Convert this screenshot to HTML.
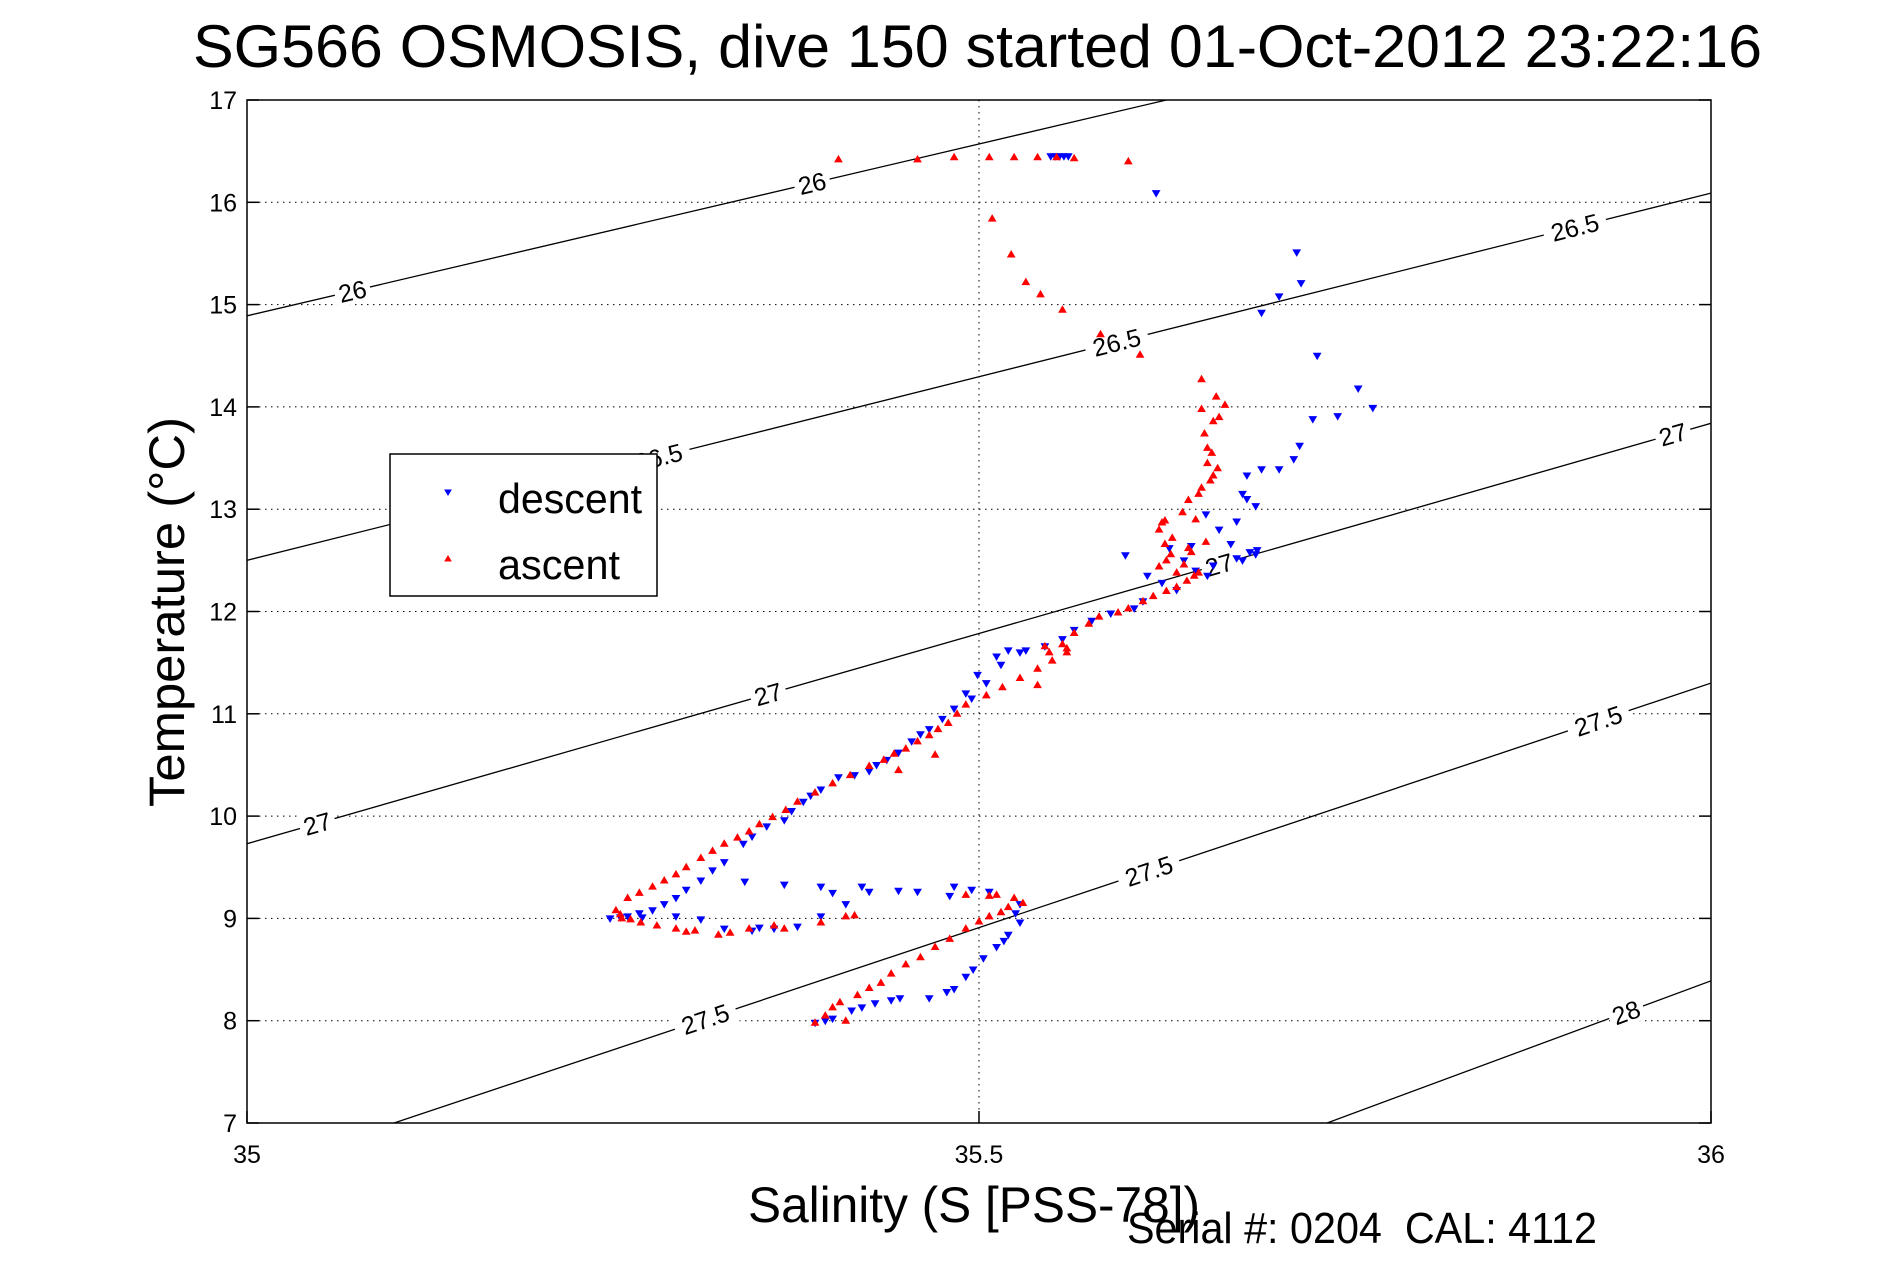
<!DOCTYPE html>
<html><head><meta charset="utf-8"><style>
html,body{margin:0;padding:0;background:#fff;width:1891px;height:1262px;overflow:hidden;}
svg{display:block;font-family:"Liberation Sans",sans-serif;}
</style></head><body>
<svg id="chart" width="1891" height="1262" viewBox="0 0 1891 1262" xmlns="http://www.w3.org/2000/svg">
<rect x="0" y="0" width="1891" height="1262" fill="#fff"/>
<defs><clipPath id="pc"><rect x="247" y="100" width="1464" height="1023"/></clipPath></defs>
<text x="193" y="67" font-size="60" textLength="1569" lengthAdjust="spacingAndGlyphs">SG566 OSMOSIS, dive 150 started 01-Oct-2012 23:22:16</text>
<g id="grid"></g>
<g id="contours" clip-path="url(#pc)"></g>
<g id="clabels"></g>
<g id="desc"></g>
<g id="asc"></g>
<rect x="247" y="100" width="1464" height="1023" fill="none" stroke="#000" stroke-width="1.5"/>
<g id="ticks"></g>
<text x="748" y="1222" font-size="50" textLength="452" lengthAdjust="spacingAndGlyphs">Salinity (S [PSS-78])</text>
<text transform="translate(184,612) rotate(-90)" text-anchor="middle" font-size="50" textLength="390" lengthAdjust="spacingAndGlyphs">Temperature (°C)</text>
<text x="1127" y="1243" font-size="44" textLength="470" lengthAdjust="spacingAndGlyphs" xml:space="preserve">Serial #: 0204 &#160;CAL: 4112</text>
<g>
<rect x="390" y="454" width="267" height="142" fill="#fff" stroke="#000" stroke-width="1.5"/>
<polygon points="445,490 451,490 448,495" fill="#00f" stroke="#00f"/>
<text x="498" y="513" font-size="42" textLength="144" lengthAdjust="spacingAndGlyphs">descent</text>
<polygon points="445,561 451,561 448,556" fill="#f00" stroke="#f00"/>
<text x="498" y="579" font-size="42" textLength="122" lengthAdjust="spacingAndGlyphs">ascent</text>
</g>
</svg>
<script>
const xTicks=[35,35.5,36];
const xTickLabels=["35","35.5","36"];
const yTicks=[7,8,9,10,11,12,13,14,15,16,17];
const contourLevels=["26","26.5","27","27.5","28"];
const contourT35=[14.89,12.5,9.73,6.52,3.09];
const contourT36=[18.25,16.09,13.84,11.30,8.39];
const labelLevelIdx=[0,0,1,1,1,2,2,2,2,3,3,3,4];
const labelS=[35.072,35.386,35.281,35.594,35.907,35.048,35.356,35.664,35.974,35.313,35.616,35.923,35.942];
const descS=[35.549,35.552,35.555,35.558,35.561,35.621,35.717,35.720,35.705,35.693,35.731,35.759,35.769,35.745,35.728,35.719,35.715,35.705,35.693,35.683,35.680,35.689,35.676,35.664,35.672,35.689,35.680,35.656,35.635,35.606,35.577,35.557,35.532,35.512,35.499,35.491,35.483,35.466,35.454,35.437,35.425,35.404,35.392,35.380,35.367,35.355,35.339,35.326,35.310,35.293,35.277,35.260,35.248,35.270,35.293,35.326,35.350,35.376,35.392,35.409,35.425,35.458,35.483,35.507,35.528,35.528,35.520,35.512,35.503,35.491,35.483,35.466,35.446,35.429,35.413,35.400,35.388,35.340,35.367,35.392,35.445,35.600,35.640,35.615,
35.685,35.690,35.676,35.660,35.648,35.625,35.612,35.590,35.565,35.545,35.528,35.520,35.515,35.505,35.495,35.475,35.460,35.445,35.430,35.415,35.385,35.372,35.345,35.318,35.300,35.285,35.268,35.255,35.310,35.345,35.360,35.525,35.517,35.496,35.478,35.440,35.420,35.395,35.400,35.420,35.480,35.495,35.630,35.645,35.655,35.683];
const descT=[16.45,16.45,16.45,16.45,16.45,16.09,15.51,15.21,15.08,14.92,14.50,14.18,13.99,13.91,13.88,13.62,13.49,13.39,13.39,13.33,13.15,13.03,12.88,12.80,12.66,12.56,12.50,12.35,12.21,12.03,11.91,11.73,11.62,11.56,11.38,11.20,11.05,10.85,10.73,10.55,10.44,10.38,10.26,10.14,9.96,9.90,9.73,9.55,9.37,9.20,9.08,9.02,9.00,9.01,9.02,8.90,8.91,8.92,9.02,9.14,9.26,9.26,9.31,9.26,9.14,8.96,8.84,8.72,8.61,8.43,8.31,8.22,8.22,8.17,8.10,8.02,7.98,9.36,9.33,9.31,9.27,12.55,12.50,12.35,
12.58,12.60,12.52,12.45,12.40,12.28,12.10,11.98,11.82,11.66,11.60,11.62,11.48,11.30,11.15,10.95,10.80,10.62,10.50,10.40,10.20,10.05,9.80,9.47,9.28,9.14,9.05,9.01,8.99,8.88,8.90,9.05,8.78,8.50,8.28,8.20,8.13,8.00,9.25,9.31,9.22,9.28,12.62,12.64,12.95,13.10];
const ascS=[35.388,35.409,35.400,35.417,35.433,35.450,35.470,35.491,35.507,35.520,35.524,35.507,35.491,35.409,35.392,35.367,35.343,35.322,35.306,35.293,35.269,35.256,35.252,35.260,35.277,35.293,35.310,35.326,35.343,35.359,35.376,35.400,35.425,35.442,35.458,35.466,35.479,35.491,35.516,35.540,35.557,35.565,35.582,35.602,35.619,35.635,35.647,35.635,35.623,35.631,35.643,35.627,35.623,35.627,35.639,35.643,35.652,35.660,35.656,35.656,35.654,35.660,35.652,35.662,35.652,35.610,35.583,35.557,35.542,35.532,35.522,35.509,35.602,35.565,35.553,35.540,35.524,35.507,35.483,35.458,35.404,35.545,35.560,
35.395,35.405,35.425,35.440,35.460,35.480,35.500,35.515,35.530,35.512,35.415,35.360,35.330,35.300,35.280,35.262,35.255,35.268,35.285,35.300,35.318,35.335,35.350,35.368,35.388,35.412,35.435,35.450,35.472,35.485,35.505,35.528,35.550,35.560,35.548,35.575,35.595,35.612,35.628,35.642,35.650,35.640,35.628,35.645,35.655,35.632,35.625,35.648,35.650,35.658,35.663,35.659,35.664,35.668,35.540,35.470,35.445];
const ascT=[7.98,8.00,8.13,8.25,8.37,8.55,8.72,8.90,9.02,9.11,9.20,9.22,9.23,9.02,8.96,8.90,8.90,8.84,8.88,8.90,8.96,9.00,9.08,9.20,9.31,9.43,9.59,9.73,9.85,9.99,10.14,10.32,10.49,10.61,10.73,10.79,10.91,11.09,11.26,11.44,11.68,11.79,11.95,12.03,12.15,12.24,12.35,12.38,12.44,12.56,12.62,12.66,12.80,12.89,12.97,13.09,13.21,13.33,13.45,13.60,13.74,13.86,13.98,14.10,14.27,14.51,14.71,14.95,15.10,15.22,15.49,15.84,16.40,16.43,16.44,16.44,16.44,16.44,16.44,16.42,16.42,11.66,11.60,
8.05,8.18,8.32,8.46,8.62,8.80,8.97,9.06,9.15,9.23,9.03,8.93,8.86,8.87,8.93,8.99,9.04,9.25,9.37,9.50,9.66,9.79,9.92,10.06,10.23,10.40,10.55,10.66,10.85,11.00,11.18,11.35,11.52,11.64,11.60,11.88,11.99,12.10,12.20,12.30,12.38,12.46,12.50,12.58,12.68,12.72,12.87,12.90,13.15,13.28,13.40,13.55,13.90,14.02,11.28,10.60,10.45];

const NS="http://www.w3.org/2000/svg";
const X0=247,X1=1711,Y0=1123,Y1=100;
function xs(s){return X0+(s-35)*(X1-X0);}
function ys(t){return Y0-(t-7)*(Y0-Y1)/10;}
function mk(tag,attrs,parent){const e=document.createElementNS(NS,tag);for(const k in attrs)e.setAttribute(k,attrs[k]);parent.appendChild(e);return e;}
const grid=document.getElementById('grid'),ticks=document.getElementById('ticks');
yTicks.forEach((t,i)=>{
  const y=ys(t);
  if(i>0){const g=mk('line',{x1:X0,x2:X1,y1:y,y2:y,stroke:'#000','stroke-width':1,'stroke-dasharray':'1.5,4.5'},grid);
  
  }
  const tk=mk('line',{x1:X0,x2:X0+12,y1:y,y2:y,stroke:'#000','stroke-width':1.5},ticks);
  
  
  const tk2=mk('line',{x1:X1,x2:X1-12,y1:y,y2:y,stroke:'#000','stroke-width':1.5},ticks);
  
  
  const lb=mk('text',{x:237,y:y+9,'text-anchor':'end','font-size':25},ticks);
  lb.textContent=String(t);
  
  
});
xTicks.forEach((s,i)=>{
  const x=xs(s);
  if(i>0){const g=mk('line',{x1:x,x2:x,y1:Y1,y2:Y0,stroke:'#000','stroke-width':1,'stroke-dasharray':'1.5,4.5'},grid);
  
  }
  const tk=mk('line',{x1:x,x2:x,y1:Y0,y2:Y0-12,stroke:'#000','stroke-width':1.5},ticks);
  
  
  const lb=mk('text',{x:x,y:1163,'text-anchor':'middle','font-size':25},ticks);
  lb.textContent=xTickLabels[i];
  
  
});
const cg=document.getElementById('contours'),clg=document.getElementById('clabels');
contourLevels.forEach((lv,i)=>{
  const l=mk('line',{x1:xs(35),y1:ys(contourT35[i]),x2:xs(36),y2:ys(contourT36[i]),stroke:'#000','stroke-width':1.3},cg);
  
  
});
labelS.forEach((s,j)=>{
  const i=labelLevelIdx[j];
  const t=contourT35[i]+(contourT36[i]-contourT35[i])*(s-35);
  const x=xs(s),y=ys(t);
  const ang=Math.atan2(ys(contourT36[i])-ys(contourT35[i]),xs(36)-xs(35))*180/Math.PI;
  const g=mk('g',{transform:'translate('+x+','+y+') rotate('+ang+')'},clg);
  
  
  const w=contourLevels[i].length*14+8;
  mk('rect',{x:-w/2,y:-13,width:w,height:26,fill:'#fff'},g);
  const tx=mk('text',{x:0,y:9,'text-anchor':'middle','font-size':25},g);
  tx.textContent=contourLevels[i];
});
const dg=document.getElementById('desc'),ag=document.getElementById('asc');
descS.forEach((s,k)=>{
  const x=xs(s),y=ys(descT[k]);
  const p=mk('polygon',{points:(x-3.5)+','+(y-2.5)+' '+(x+3.5)+','+(y-2.5)+' '+x+','+(y+3.5),fill:'#00f',stroke:'#00f','stroke-width':1},dg);
  
  
});
ascS.forEach((s,k)=>{
  const x=xs(s),y=ys(ascT[k]);
  const p=mk('polygon',{points:(x-3.5)+','+(y+2.5)+' '+(x+3.5)+','+(y+2.5)+' '+x+','+(y-3.5),fill:'#f00',stroke:'#f00','stroke-width':1},ag);
  
  
});
</script>
</body></html>
